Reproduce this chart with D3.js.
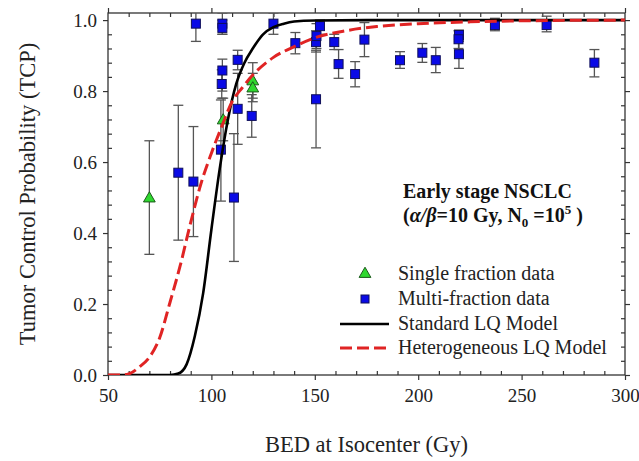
<!DOCTYPE html>
<html>
<head>
<meta charset="utf-8">
<script src="https://cdn.jsdelivr.net/npm/d3@7"></script>
<style>
  body { margin: 0; background: #fff; }
  svg { display: block; font-family: "Liberation Serif", "Times New Roman", serif; }
  .axis path { display: none; }
  .axis line { stroke: #333; stroke-width: 1.2; }
  .axis text { font-family: "Liberation Serif", serif; font-size: 19px; fill: #222; }
</style>
</head>
<body>
<div id="chart"></div>
<script>
// Tick values
const xMajorTicks = [50, 100, 150, 200, 250, 300];
const xMinorTicks = [60, 70, 80, 90, 110, 120, 130, 140, 160, 170, 180, 190, 210, 220, 230, 240, 260, 270, 280, 290];
const yMajorTicks = [0, 0.2, 0.4, 0.6, 0.8, 1.0];
const yMinorTicks = [0.04, 0.08, 0.12, 0.16, 0.24, 0.28, 0.32, 0.36, 0.44, 0.48, 0.52, 0.56,
                     0.64, 0.68, 0.72, 0.76, 0.84, 0.88, 0.92, 0.96];

// Single fraction data: [BED, TCP, lower, upper]
const singleFraction = [
    [70, 0.50, 0.34, 0.66],
    [105.7, 0.72, 0.66, 0.78],
    [120, 0.83, 0.78, 0.88],
    [120, 0.81, 0.77, 0.85]
];

// Multi-fraction data: [BED, TCP, lower, upper]
const multiFraction = [
    [84, 0.57, 0.38, 0.76],
    [91.3, 0.545, 0.39, 0.70],
    [92.5, 0.99, 0.94, 1.04],
    [105.3, 0.99, 0.96, 1.02],
    [105.3, 0.978, 0.96, 1.0],
    [105.3, 0.858, 0.80, 0.89],
    [105.0, 0.82, 0.78, 0.86],
    [104.6, 0.635, 0.49, 0.775],
    [110.9, 0.50, 0.32, 0.68],
    [112.7, 0.888, 0.86, 0.915],
    [112.7, 0.75, 0.65, 0.85],
    [119.5, 0.73, 0.67, 0.79],
    [130, 0.99, 0.96, 1.02],
    [140.6, 0.935, 0.905, 0.965],
    [150.6, 0.777, 0.64, 0.915],
    [150.6, 0.938, 0.91, 0.97],
    [150.8, 0.955, 0.92, 0.99],
    [152.5, 0.983, 0.96, 1.0],
    [159.4, 0.938, 0.917, 0.96],
    [161.5, 0.876, 0.836, 0.917],
    [169.5, 0.848, 0.812, 0.883],
    [174, 0.945, 0.897, 0.993],
    [191.2, 0.887, 0.864, 0.911],
    [202, 0.908, 0.881, 0.934],
    [208.5, 0.887, 0.852, 0.923],
    [219.7, 0.958, 0.94, 0.972],
    [219.5, 0.946, 0.92, 0.97],
    [219.7, 0.904, 0.864, 0.944],
    [237.1, 0.986, 0.97, 1.005],
    [262.1, 0.986, 0.967, 1.011],
    [285.2, 0.88, 0.84, 0.917]
];

// Standard LQ model curve: [BED, TCP]
const standardLQ = [
    [50, 0], [80, 0], [84, 0.004], [88, 0.03], [92, 0.11], [96, 0.23], [100, 0.41],
    [104, 0.58], [108, 0.72], [112, 0.82], [116, 0.88], [120, 0.92], [125, 0.96],
    [130, 0.98], [135, 0.99], [140, 0.996], [150, 0.999], [175, 1.0], [300, 1.0]
];

// Heterogeneous LQ model curve: [BED, TCP]
const heteroLQ = [
    [50, 0], [56, 0], [60, 0.003], [65, 0.022], [70, 0.05], [75, 0.105], [80, 0.205],
    [85, 0.31], [90, 0.43], [95, 0.54], [100, 0.625], [105, 0.70], [110, 0.77],
    [115, 0.81], [120, 0.845], [130, 0.895], [140, 0.925], [150, 0.95], [165, 0.97],
    [180, 0.982], [200, 0.99], [225, 0.995], [250, 0.998], [300, 1.0]
];

const legendItems = ['Single fraction data', 'Multi-fraction data', 'Standard LQ Model', 'Heterogeneous LQ Model'];

function drawChart() {
    const W = 639, H = 461;
    const left = 108, right = 625, top = 13, bottom = 375;

    const svg = d3.select('#chart').append('svg')
        .attr('width', W)
        .attr('height', H);

    const x = d3.scaleLinear().domain([50, 300]).range([left, right]);
    const y = d3.scaleLinear().domain([0, 1.02]).range([bottom, top]);

    svg.append('defs').append('clipPath')
        .attr('id', 'plot-clip')
        .append('rect')
        .attr('x', left).attr('y', top)
        .attr('width', right - left).attr('height', bottom - top);

    // Frame
    svg.append('rect')
        .attr('x', left).attr('y', top)
        .attr('width', right - left).attr('height', bottom - top)
        .attr('fill', 'none')
        .attr('stroke', '#333')
        .attr('stroke-width', 1.3);

    // Bottom axis: major outward with labels, minor inward
    svg.append('g').attr('class', 'axis')
        .attr('transform', `translate(0,${bottom})`)
        .call(d3.axisBottom(x).tickValues(xMajorTicks).tickSize(5).tickPadding(9).tickFormat(d3.format('d')));
    svg.append('g').attr('class', 'axis')
        .attr('transform', `translate(0,${bottom})`)
        .call(d3.axisTop(x).tickValues(xMinorTicks).tickSize(4).tickFormat(''));

    // Top axis
    svg.append('g').attr('class', 'axis')
        .attr('transform', `translate(0,${top})`)
        .call(d3.axisTop(x).tickValues(xMajorTicks).tickSize(5).tickFormat(''));
    svg.append('g').attr('class', 'axis')
        .attr('transform', `translate(0,${top})`)
        .call(d3.axisBottom(x).tickValues(xMinorTicks).tickSize(4).tickFormat(''));

    // Left axis
    svg.append('g').attr('class', 'axis')
        .attr('transform', `translate(${left},0)`)
        .call(d3.axisLeft(y).tickValues(yMajorTicks).tickSize(5).tickPadding(6).tickFormat(d3.format('.1f')));
    svg.append('g').attr('class', 'axis')
        .attr('transform', `translate(${left},0)`)
        .call(d3.axisRight(y).tickValues(yMinorTicks).tickSize(4).tickFormat(''));

    // Right axis
    svg.append('g').attr('class', 'axis')
        .attr('transform', `translate(${right},0)`)
        .call(d3.axisRight(y).tickValues(yMajorTicks).tickSize(5).tickFormat(''));
    svg.append('g').attr('class', 'axis')
        .attr('transform', `translate(${right},0)`)
        .call(d3.axisLeft(y).tickValues(yMinorTicks).tickSize(4).tickFormat(''));

    // Axis labels
    svg.append('text')
        .attr('x', (left + right) / 2)
        .attr('y', 452)
        .attr('text-anchor', 'middle')
        .attr('font-size', '22.5px')
        .attr('fill', '#222')
        .text('BED at Isocenter (Gy)');

    svg.append('text')
        .attr('transform', `translate(35,${(top + bottom) / 2}) rotate(-90)`)
        .attr('text-anchor', 'middle')
        .attr('font-size', '22.5px')
        .attr('fill', '#222')
        .text('Tumor Control Probability (TCP)');

    const plot = svg.append('g').attr('clip-path', 'url(#plot-clip)');

    // Error bars
    const allPoints = singleFraction.concat(multiFraction);
    const err = plot.selectAll('.err')
        .data(allPoints)
        .enter().append('g')
        .attr('class', 'err')
        .attr('stroke', '#555')
        .attr('stroke-width', 1.3);
    err.append('line')
        .attr('x1', d => x(d[0])).attr('x2', d => x(d[0]))
        .attr('y1', d => y(d[2])).attr('y2', d => y(d[3]));
    err.append('line')
        .attr('x1', d => x(d[0]) - 5).attr('x2', d => x(d[0]) + 5)
        .attr('y1', d => y(d[2])).attr('y2', d => y(d[2]));
    err.append('line')
        .attr('x1', d => x(d[0]) - 5).attr('x2', d => x(d[0]) + 5)
        .attr('y1', d => y(d[3])).attr('y2', d => y(d[3]));

    // Markers
    const sq = 9;
    plot.selectAll('.multi')
        .data(multiFraction)
        .enter().append('rect')
        .attr('class', 'multi')
        .attr('x', d => x(d[0]) - sq / 2)
        .attr('y', d => y(d[1]) - sq / 2)
        .attr('width', sq).attr('height', sq)
        .attr('fill', '#0a0ae6')
        .attr('stroke', '#10105a')
        .attr('stroke-width', 1);

    const tri = d3.symbol().type(d3.symbolTriangle).size(60);
    plot.selectAll('.single')
        .data(singleFraction)
        .enter().append('path')
        .attr('class', 'single')
        .attr('d', tri)
        .attr('transform', d => `translate(${x(d[0])},${y(d[1]) + 1})`)
        .attr('fill', '#2fd82f')
        .attr('stroke', '#1a5a1a')
        .attr('stroke-width', 1);

    // Model curves
    const line = d3.line()
        .x(d => x(d[0]))
        .y(d => y(d[1]))
        .curve(d3.curveMonotoneX);

    plot.append('path')
        .datum(standardLQ)
        .attr('d', line)
        .attr('fill', 'none')
        .attr('stroke', '#000')
        .attr('stroke-width', 2.6);

    plot.append('path')
        .datum(heteroLQ)
        .attr('d', line)
        .attr('fill', 'none')
        .attr('stroke', '#e02424')
        .attr('stroke-width', 3)
        .attr('stroke-dasharray', '12,5');

    // Annotation
    const note = svg.append('g')
        .attr('font-weight', 'bold')
        .attr('font-size', '20px')
        .attr('fill', '#111');
    note.append('text')
        .attr('x', 403).attr('y', 198)
        .text('Early stage NSCLC');
    const t2 = note.append('text').attr('x', 403).attr('y', 222);
    t2.append('tspan').text('(');
    t2.append('tspan').attr('font-style', 'italic').text('α/β');
    t2.append('tspan').text('=10 Gy, N');
    t2.append('tspan').attr('font-size', '13px').attr('dy', 5).text('0');
    t2.append('tspan').attr('dy', -5).text(' =10');
    t2.append('tspan').attr('font-size', '13px').attr('dy', -8).text('5');
    t2.append('tspan').attr('dy', 8).text(' )');

    // Legend
    const legendY = [280, 305, 330, 354];
    const legend = svg.append('g');
    legend.selectAll('text')
        .data(legendItems)
        .enter().append('text')
        .attr('x', 398)
        .attr('y', (d, i) => legendY[i])
        .attr('font-size', '20px')
        .attr('fill', '#222')
        .text(d => d);

    legend.append('path')
        .attr('d', tri)
        .attr('transform', `translate(365,${legendY[0] - 6})`)
        .attr('fill', '#2fd82f')
        .attr('stroke', '#1a5a1a');
    legend.append('rect')
        .attr('x', 365 - 4).attr('y', legendY[1] - 6 - 4)
        .attr('width', 8).attr('height', 8)
        .attr('fill', '#0a0ae6')
        .attr('stroke', '#10105a');
    legend.append('line')
        .attr('x1', 340).attr('x2', 389)
        .attr('y1', legendY[2] - 6).attr('y2', legendY[2] - 6)
        .attr('stroke', '#000')
        .attr('stroke-width', 2.6);
    legend.append('line')
        .attr('x1', 340).attr('x2', 389)
        .attr('y1', legendY[3] - 6).attr('y2', legendY[3] - 6)
        .attr('stroke', '#e02424')
        .attr('stroke-width', 3)
        .attr('stroke-dasharray', '12,5');
}

drawChart();
</script>
</body>
</html>
